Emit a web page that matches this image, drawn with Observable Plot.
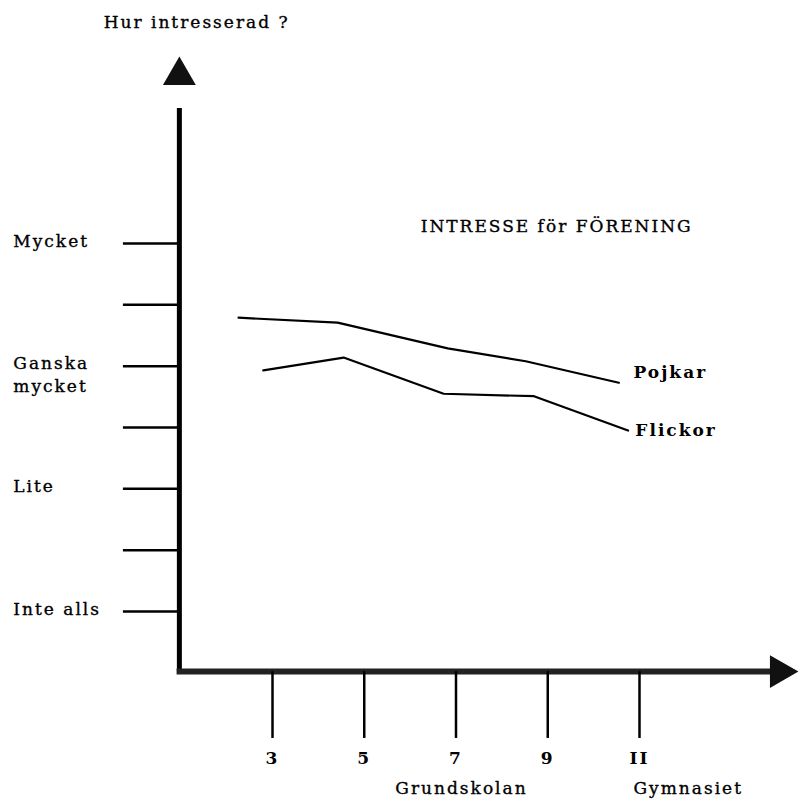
<!DOCTYPE html>
<html>
<head>
<meta charset="utf-8">
<script src="https://cdn.jsdelivr.net/npm/d3@7"></script>
<script src="https://cdn.jsdelivr.net/npm/@observablehq/plot@0.6"></script>
<style>
  html, body { margin: 0; padding: 0; background: #fff; }
  #chart svg { display: block; }
</style>
</head>
<body>
<div id="chart"></div>
<script>
// ---- data ----
const levels = [0, 1, 2, 3, 4, 5, 6];                 // y tick positions (interest scale)
const levelLabelValues = [6, 4, 2, 0];
const levelLabelTexts = ["Mycket", "Ganska\nmycket", "Lite", "Inte alls"];

const grades = [3, 5, 7, 9, 11];                      // x ticks (school year)
const gradeLabels = ["3", "5", "7", "9", "II"];

const pojkarGrade = [2.26, 4.42, 6.82, 8.52, 10.55];
const pojkarValue = [4.79, 4.71, 4.29, 4.08, 3.73];
const flickorGrade = [2.80, 4.55, 6.73, 8.70, 10.75];
const flickorValue = [3.93, 4.14, 3.55, 3.51, 2.95];

const seriesNames = ["Pojkar", "Flickor"];
const chartTitle = "INTRESSE för FÖRENING";
const yTitle = "Hur intresserad ?";
const xGroupLabels = ["Grundskolan", "Gymnasiet"];

// ---- build tables ----
const pojkar = pojkarGrade.map((g, i) => ({grade: g, value: pojkarValue[i]}));
const flickor = flickorGrade.map((g, i) => ({grade: g, value: flickorValue[i]}));
const yLabels = levelLabelValues.map((v, i) => ({v, text: levelLabelTexts[i]}));
const xTicks = grades.map((g, i) => ({g, text: gradeLabels[i]}));

// axis geometry in data units
const xOrigin = 0.97, yOrigin = -0.98;
const xEnd = 14.0, yEnd = 8.2;
const yTickStart = -0.25;
const xTickEnd = -2.07;
const labelX = -2.65;

const FONT = "DejaVu Serif";
const txt = {fill: "#000", stroke: "#000", strokeWidth: 0.35, fontFamily: FONT, fontSize: 17};

const plot = Plot.plot({
  width: 801,
  height: 805,
  margin: 0,
  x: {type: "linear", domain: [3, 11], range: [272, 639], axis: null},
  y: {type: "linear", domain: [0, 6], range: [611, 243], axis: null},
  style: {fontFamily: FONT, background: "#fff", color: "#000"},
  marks: [
    // y axis line + arrow
    Plot.ruleX([xOrigin], {y1: yOrigin, y2: yEnd, stroke: "#000", strokeWidth: 5}),
    Plot.dot([{x: xOrigin, y: 8.74}], {x: "x", y: "y", symbol: "triangle2", r: 15.7, fill: "#111", stroke: "none"}),
    // x axis line + arrow
    Plot.ruleY([yOrigin], {x1: xOrigin - 0.05, x2: xEnd, stroke: "#222", strokeWidth: 6}),
    Plot.dot([{x: 14.05, y: yOrigin}], {x: "x", y: "y", symbol: "triangle2", r: 15.7, rotate: 90, fill: "#111", stroke: "none"}),
    // y tick lines
    Plot.ruleY(levels, {x1: yTickStart, x2: xOrigin, stroke: "#000", strokeWidth: 2.5}),
    // x tick lines
    Plot.ruleX(grades, {y1: yOrigin, y2: xTickEnd, stroke: "#000", strokeWidth: 2.5}),
    // y labels
    Plot.text(yLabels, {...txt, x: () => labelX, y: "v", text: "text", textAnchor: "start", lineAnchor: "top", dy: -13, lineHeight: 1.35}),
    // x labels
    Plot.text(xTicks, {...txt, x: "g", y: () => -2.40, text: "text", fontWeight: "bold", strokeWidth: 0}),
    Plot.text([xGroupLabels[0]], {...txt, x: () => 7.12, y: () => -2.89, text: d => d}),
    Plot.text([xGroupLabels[1]], {...txt, x: () => 10.87, y: () => -2.89, text: d => d, textAnchor: "start"}),
    // titles
    Plot.text([yTitle], {...txt, x: () => -0.68, y: () => 9.60, text: d => d, textAnchor: "start"}),
    Plot.text([chartTitle], {...txt, x: () => 6.23, y: () => 6.28, text: d => d, textAnchor: "start"}),
    // series lines
    Plot.line(pojkar, {x: "grade", y: "value", stroke: "#000", strokeWidth: 2.2}),
    Plot.line(flickor, {x: "grade", y: "value", stroke: "#000", strokeWidth: 2.2}),
    // series labels
    Plot.text([seriesNames[0]], {...txt, x: () => 10.87, y: () => 3.90, text: d => d, textAnchor: "start", fontWeight: "bold", strokeWidth: 0}),
    Plot.text([seriesNames[1]], {...txt, x: () => 10.91, y: () => 2.95, text: d => d, textAnchor: "start", fontWeight: "bold", strokeWidth: 0})
  ]
});
plot.querySelectorAll("text").forEach(t => t.setAttribute("letter-spacing", "2"));
document.getElementById("chart").appendChild(plot);
</script>
</body>
</html>
